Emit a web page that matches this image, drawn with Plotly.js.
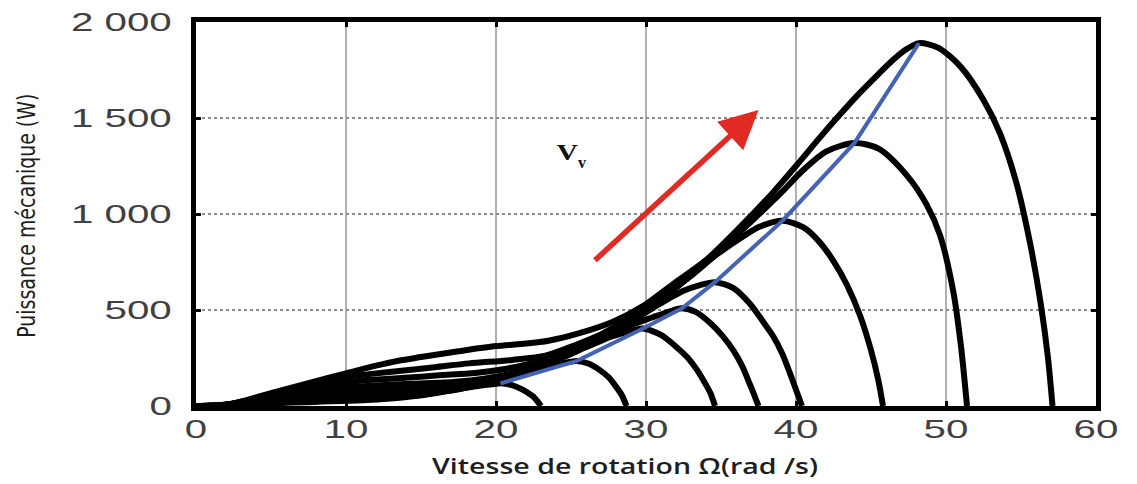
<!DOCTYPE html>
<html>
<head>
<meta charset="utf-8">
<script src="https://cdn.plot.ly/plotly-3.0.1.min.js"></script>
<style>
  html, body { margin: 0; padding: 0; background: #ffffff; }
  #chart { width: 1137px; height: 484px; }
</style>
</head>
<body>
<div id="chart"></div>
<script>
// Mechanical power of the wind turbine versus rotor speed, one curve per wind speed
// (lowest wind speed first), plus the optimal-power (MPPT) locus through the maxima.

const omegaV1 = [0, 1.0, 2.5, 4.2, 5.7, 7.4, 8.4, 9.7, 10.7, 11.7, 12.5, 13.4, 14.3, 15.3, 16.2, 17.1, 18.1, 19.0, 19.9, 20.3, 21.0, 21.6, 22.1, 22.5, 23.0];
const powerV1 = [0, 1, 5, 12, 16, 20, 23, 26, 29, 32, 36, 42, 49, 59, 70, 82, 96, 107, 115, 118, 110, 92, 70, 48, 0];

const omegaV2 = [0, 1.0, 2.1, 3.2, 4.2, 5.3, 6.3, 7.1, 7.9, 9.2, 10.5, 12.1, 13.4, 14.7, 15.7, 16.8, 17.9, 19.1, 20.3, 21.4, 22.6, 23.8, 24.9, 25.4, 26.2, 26.9, 27.5, 28.0, 28.4, 28.7];
const powerV2 = [0, 1.5, 7, 14, 20, 26, 31, 34, 37, 41, 45, 48, 52, 58, 66, 79, 94, 116, 140, 163, 191, 213, 229, 235, 220, 188, 150, 101, 55, 0];

const omegaV3 = [0, 1.2, 1.9, 2.5, 3.7, 4.9, 6.2, 7.4, 8.3, 9.3, 10.8, 12.4, 14.2, 15.8, 17.2, 18.4, 19.7, 21.0, 22.4, 23.8, 25.2, 26.5, 27.9, 29.2, 29.8, 31.0, 32.0, 32.8, 33.4, 34.0, 34.3, 34.6];
const powerV3 = [0, 1.5, 6, 12, 23, 34, 44, 53, 58, 62, 66, 70, 75, 83, 96, 112, 136, 163, 200, 241, 282, 330, 367, 395, 404, 370, 309, 250, 188, 110, 66, 0];

const omegaV4 = [0, 1.3, 2.0, 2.7, 4.0, 5.4, 6.7, 8.1, 9.1, 10.1, 11.8, 13.4, 15.5, 17.1, 18.7, 20.0, 21.4, 22.8, 24.4, 25.9, 27.4, 28.8, 30.4, 31.7, 32.4, 33.3, 34.3, 35.1, 35.8, 36.4, 36.9, 37.2, 37.5];
const powerV4 = [0, 2, 7, 15, 30, 45, 58, 69, 75, 79, 85, 90, 96, 106, 120, 140, 171, 204, 251, 303, 354, 415, 461, 496, 509, 490, 431, 365, 292, 210, 118, 60, 0];

const omegaV5 = [0, 1.4, 2.2, 2.9, 4.3, 5.7, 7.2, 8.6, 9.7, 10.8, 12.6, 14.4, 16.5, 18.3, 20.0, 21.4, 22.8, 24.4, 26.1, 27.6, 29.2, 30.8, 32.5, 33.6, 34.6, 35.8, 36.9, 37.8, 38.5, 39.1, 39.6, 40.0, 40.4];
const powerV5 = [0, 2, 9, 18, 36, 54, 72, 87, 96, 102, 109, 116, 122, 133, 152, 177, 217, 259, 318, 384, 449, 526, 600, 630, 645, 615, 535, 440, 361, 270, 170, 85, 0];

const omegaV6 = [0, 0.8, 1.6, 2.4, 3.2, 4.9, 6.5, 8.1, 9.7, 10.9, 12.1, 14.2, 16.2, 18.6, 20.6, 22.5, 24.1, 25.7, 27.5, 29.4, 31.1, 32.9, 34.7, 36.6, 37.6, 39.1, 40.5, 41.5, 42.5, 43.4, 44.3, 45.0, 45.5, 45.8];
const powerV6 = [0, 0.5, 3, 12, 26, 53, 78, 102, 121, 132, 138, 148, 160, 172, 193, 224, 266, 324, 388, 477, 575, 672, 788, 890, 935, 965, 930, 860, 755, 630, 465, 290, 130, 0];

const omegaV7 = [0, 1, 2, 3, 4, 5.5, 7.3, 9.1, 10.5, 12, 13.7, 15.9, 18.2, 21.1, 23.3, 25.3, 27.1, 29, 31, 33, 35, 37, 39, 40.5, 42, 43.9, 45.5, 47.4, 48.7, 49.6, 50.5, 51, 51.4];
const powerV7 = [0, 1, 5, 18, 37, 68, 103, 134, 156, 170, 184, 202, 222, 240, 262, 318, 377, 460, 555, 680, 820, 960, 1110, 1230, 1325, 1370, 1340, 1200, 1050, 890, 590, 310, 0];

const omegaV8 = [0, 1, 2, 3, 4, 6, 8, 10, 12, 13.5, 15, 17.5, 20, 22, 23.5, 25.5, 27.8, 29.8, 31.8, 34, 36.3, 38.5, 40, 41.5, 42.9, 44, 45.2, 46.3, 47.3, 48.2, 49.5, 51, 52.5, 53.6, 54.7, 55.6, 56.3, 56.8, 57.1];
const powerV8 = [0, 1, 6, 22, 45, 88, 130, 170, 210, 236, 255, 285, 312, 325, 340, 378, 439, 520, 635, 760, 934, 1115, 1250, 1390, 1515, 1610, 1705, 1790, 1855, 1890, 1865, 1765, 1594, 1420, 1160, 850, 540, 250, 0];

// maximum-power points of each curve
const mpptOmega = [20.3, 25.4, 29.8, 32.4, 34.6, 39.1, 43.9, 48.2];
const mpptPower = [118, 235, 404, 509, 645, 965, 1370, 1890];

const xTickVals = [0, 10, 20, 30, 40, 50, 60];
const xTickText = ['0', '10', '20', '30', '40', '50', '60'];
const yTickVals = [0, 500, 1000, 1500, 2000];
const yTickText = ['0', '500', '1 000', '1 500', '2 000'];

const curves = [
  [omegaV1, powerV1], [omegaV2, powerV2], [omegaV3, powerV3], [omegaV4, powerV4],
  [omegaV5, powerV5], [omegaV6, powerV6], [omegaV7, powerV7], [omegaV8, powerV8]
];

const traces = curves.map(([om, pw]) => ({
  type: 'scatter', mode: 'lines', x: om, y: pw,
  line: { color: '#000000', width: 6, shape: 'spline', smoothing: 0.8 },
  hoverinfo: 'skip'
}));

traces.push({
  type: 'scatter', mode: 'lines', x: mpptOmega, y: mpptPower,
  line: { color: '#4463b2', width: 4 },
  hoverinfo: 'skip'
});

const tickFont = { family: 'Liberation Sans, Arial, sans-serif', size: 26, color: '#404040' };
const serifBold = { family: 'Liberation Serif, DejaVu Serif, serif', color: '#111111', weight: 'bold' };

const layout = {
  width: 1137, height: 484,
  margin: { l: 196, r: 41, t: 22, b: 78, pad: 0 },
  paper_bgcolor: '#ffffff', plot_bgcolor: '#ffffff',
  showlegend: false,
  xaxis: {
    range: [0, 60], tickvals: xTickVals, ticktext: xTickText,
    showline: true, linewidth: 5, linecolor: '#000000', mirror: 'ticks',
    ticks: 'inside', ticklen: 5, tickwidth: 3, tickcolor: '#000000',
    showgrid: true, gridcolor: '#b0b0b0', gridwidth: 2.5, zeroline: false,
    tickfont: tickFont, ticklabelstandoff: -4
  },
  yaxis: {
    range: [0, 2000], tickvals: yTickVals, ticktext: yTickText,
    showline: true, linewidth: 5, linecolor: '#000000', mirror: 'ticks',
    ticks: 'inside', ticklen: 5, tickwidth: 3, tickcolor: '#000000',
    showgrid: true, gridcolor: '#8c8c8c', gridwidth: 2, griddash: 'dot', zeroline: false,
    tickfont: tickFont, ticklabelstandoff: 14
  },
  annotations: [
    {
      text: 'Vitesse de rotation Ω(rad /s)', xref: 'paper', yref: 'paper',
      x: 0.4767, y: -0.156, xanchor: 'center', yanchor: 'middle', showarrow: false,
      font: { family: 'Open Sans, DejaVu Sans, sans-serif', size: 21, color: '#1e1e1e', weight: 600 }
    },
    {
      text: 'Puissance mécanique (W)', xref: 'paper', yref: 'paper',
      x: -0.188, y: 0.497, xanchor: 'center', yanchor: 'middle', showarrow: false, textangle: -90,
      font: { family: 'Liberation Sans Narrow, DejaVu Sans Condensed, Liberation Sans, sans-serif', size: 24, color: '#1e1e1e' }
    },
    // wind speed symbol V with its subscript v
    {
      text: 'V', xref: 'x', yref: 'y', x: 24.75, y: 1318,
      xanchor: 'center', yanchor: 'middle', showarrow: false,
      font: Object.assign({ size: 23 }, serifBold)
    },
    {
      text: 'v', xref: 'x', yref: 'y', x: 25.75, y: 1268,
      xanchor: 'center', yanchor: 'middle', showarrow: false,
      font: Object.assign({ size: 16 }, serifBold)
    },
    // arrow: direction of increasing wind speed
    {
      text: '', xref: 'x', yref: 'y', axref: 'x', ayref: 'y',
      x: 37.5, y: 1542, ax: 26.5, ay: 752,
      showarrow: true, arrowhead: 2, arrowsize: 1.4, arrowwidth: 5.5, arrowcolor: '#e12a24', standoff: 0
    }
  ]
};

// widen/condense text runs to the typeset proportions of the figure
function fitText(selector, length) {
  document.querySelectorAll(selector).forEach(t => {
    t.setAttribute('textLength', length(t.getComputedTextLength()).toFixed(1));
    t.setAttribute('lengthAdjust', 'spacingAndGlyphs');
  });
}

Plotly.newPlot('chart', traces, layout, { staticPlot: true, displayModeBar: false }).then(() => {
  fitText('.xtick text, .ytick text', w => w * 1.55);
  fitText('g.annotation[data-index="0"] text.annotation-text', () => 386);
  fitText('g.annotation[data-index="1"] text.annotation-text', () => 244);
  fitText('g.annotation[data-index="2"] text.annotation-text', w => w * 1.3);
});
</script>
</body>
</html>
